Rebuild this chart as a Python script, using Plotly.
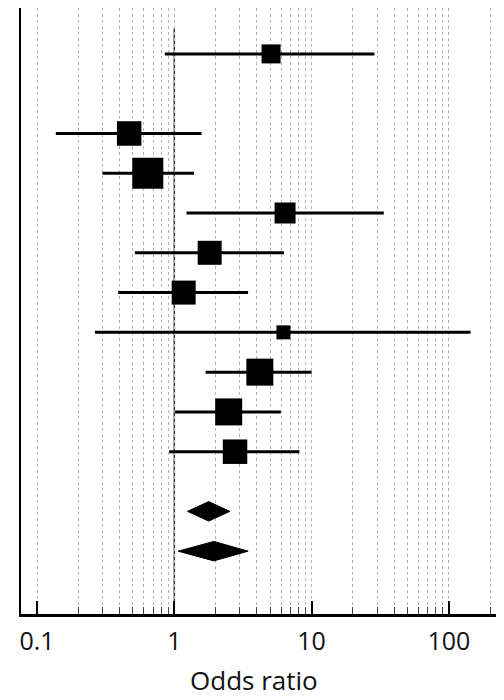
import plotly.graph_objects as go
import math

# Study-level estimates (odds ratio, 95% CI) and weights (marker size)
rows = [1, 3, 4, 5, 6, 7, 8, 9, 10, 11]
est = [5.07, 0.469, 0.641, 6.41, 1.81, 1.17, 6.24, 4.20, 2.49, 2.77]
lo = [0.853, 0.137, 0.300, 1.227, 0.516, 0.390, 0.264, 1.69, 1.01, 0.917]
hi = [28.7, 1.58, 1.39, 33.6, 6.30, 3.45, 144.0, 10.0, 5.97, 8.16]
weights = [19, 24.5, 31, 21, 24, 24, 14, 27, 27, 24.5]

# Pooled estimates (diamonds)
pooled_rows = [12.5, 13.5]
pooled_est = [1.78, 1.94]
pooled_lo = [1.248, 1.066]
pooled_hi = [2.54, 3.45]

major_ticks = [0.1, 1, 10, 100]
major_labels = ["0.1", "1", "10", "100"]
minor_ticks = [m * d for d in (0.1, 1, 10) for m in range(2, 10)] + [200]
x_title = "Odds ratio"

fig = go.Figure()

# CI lines + squares
fig.add_trace(go.Scatter(
    x=est, y=rows, mode="markers",
    marker=dict(symbol="square", size=weights, color="black", opacity=1,
                line=dict(width=0)),
    error_x=dict(type="data", symmetric=False,
                 array=[h - e for h, e in zip(hi, est)],
                 arrayminus=[e - l for e, l in zip(est, lo)],
                 width=0, thickness=3, color="black"),
    showlegend=False, hoverinfo="skip",
))

# Diamonds
half_h = 0.245
for r, e, l, h in zip(pooled_rows, pooled_est, pooled_lo, pooled_hi):
    fig.add_trace(go.Scatter(
        x=[l, e, h, e, l], y=[r, r - half_h, r, r + half_h, r],
        mode="lines", fill="toself", fillcolor="black",
        line=dict(color="black", width=1), showlegend=False, hoverinfo="skip",
    ))

# Null line at OR = 1
fig.add_shape(type="line", xref="x", yref="y", x0=1, x1=1, y0=0.35, y1=15.08,
              line=dict(color="#333333", width=1.5), layer="below")

# Axis title as annotation (centered slightly left of plot centre, as in reference)
fig.add_annotation(text=x_title, xref="paper", yref="paper", x=0.4854, y=0,
                   xanchor="center", yanchor="middle", yshift=-66,
                   showarrow=False, borderpad=0,
                   font=dict(size=26, color="#111111"))

fig.update_layout(
    width=496, height=692, autosize=False,
    margin=dict(l=13, r=2, t=0, b=86, pad=0),
    paper_bgcolor="white", plot_bgcolor="white",
    font=dict(family="Open Sans, DejaVu Sans, sans-serif", color="black"),
    xaxis=dict(
        type="log", range=[math.log10(0.0764), math.log10(244)],
        automargin=False,
        tickvals=major_ticks, ticktext=major_labels,
        ticks="inside", ticklen=13, tickwidth=2, tickcolor="black",
        tickfont=dict(size=25, color="#111111"),
        ticklabelstandoff=3,
        showline=True, linewidth=2.5, linecolor="black",
        showgrid=True, gridcolor="#b5b5b5", gridwidth=1, griddash="dot",
        zeroline=False,
        minor=dict(tickvals=minor_ticks, ticks="inside", ticklen=7, tickwidth=1,
                   tickcolor="#444444", showgrid=True, gridcolor="#b5b5b5",
                   gridwidth=1, griddash="dot"),
    ),
    yaxis=dict(
        range=[15.08, -0.154], showgrid=False, zeroline=False,
        showticklabels=False, ticks="", automargin=False,
        showline=True, linewidth=2, linecolor="black",
    ),
)

fig.write_html("out.html")
